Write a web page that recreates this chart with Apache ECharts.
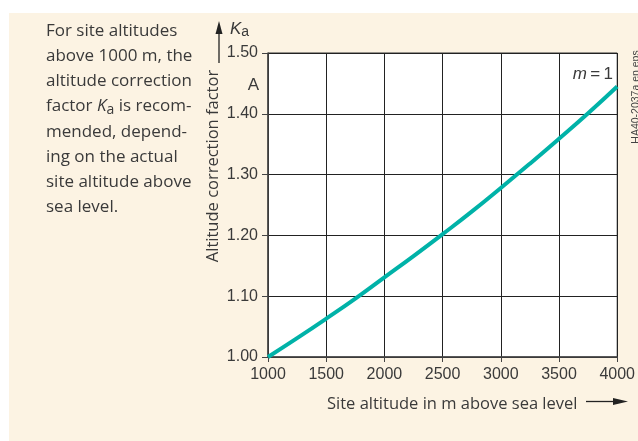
<!DOCTYPE html>
<html>
<head>
<meta charset="utf-8">
<script src="https://cdn.jsdelivr.net/npm/echarts@6/dist/echarts.min.js"></script>
<style>
html,body{margin:0;padding:0;background:#fff;overflow:hidden;}
#bg{position:absolute;left:9px;top:13px;width:629px;height:428px;background:#fcf3e3;}
#main{position:absolute;left:0;top:0;width:638px;height:441px;}
</style>
</head>
<body>
<div id="bg"></div>
<div id="main"></div>
<script>
// Data
const altitudes = [1000, 1250, 1500, 1750, 2000, 2250, 2500, 2750, 3000, 3250, 3500, 3750, 4000];
const kaValues  = [1.000, 1.031, 1.063, 1.096, 1.131, 1.166, 1.202, 1.239, 1.278, 1.318, 1.359, 1.401, 1.445];
const xTicks = ['1000', '1500', '2000', '2500', '3000', '3500', '4000'];
const yTicks = ['1.00', '1.10', '1.20', '1.30', '1.40', '1.50'];
const xAxisTitle = 'Site altitude in m above sea level';
const yAxisTitle = 'Altitude correction factor';
const descLines = [
  'For site altitudes',
  'above 1000 m, the',
  'altitude correction',
  '{t|factor }{k|K}{s|a}{t| is recom-}',
  'mended, depend-',
  'ing on the actual',
  'site altitude above',
  'sea level.'
];

const tickFont = "'Liberation Sans', Arial, sans-serif";
const textFont = "'Open Sans', 'Noto Sans', sans-serif";
const textColor = '#3a3a3a';

const chart = echarts.init(document.getElementById('main'), null, {renderer: 'canvas'});

const descGraphics = descLines.map((line, i) => ({
  type: 'text', x: 46, y: 31 + i * 25.2,
  style: {
    text: line, font: '17px ' + textFont, fill: textColor, align: 'left', verticalAlign: 'middle',
    rich: {
      t: {font: '17px ' + textFont, fill: textColor},
      k: {font: 'italic 17px ' + textFont, fill: textColor},
      s: {font: '14px ' + textFont, fill: textColor, padding: [7, 0, 0, 0]}
    }
  }
}));

const option = {
  backgroundColor: 'transparent',
  animation: false,
  grid: {
    left: 268, top: 53, width: 357, height: 304,
    show: true, backgroundColor: '#ffffff', borderColor: '#333', borderWidth: 1
  },
  xAxis: {
    type: 'value', min: 1000, max: 4000, interval: 500,
    axisLine: {show: true, lineStyle: {color: '#444', width: 1.5}},
    axisTick: {show: true, length: 5, lineStyle: {color: '#444'}},
    splitLine: {show: true, lineStyle: {color: '#222', width: 1}},
    axisLabel: {
      color: textColor, fontFamily: tickFont, fontSize: 16, margin: 10,
      formatter: v => xTicks[Math.round((v - 1000) / 500)] || String(v)
    }
  },
  yAxis: {
    type: 'value', min: 1.0, max: 1.5, interval: 0.1,
    axisLine: {show: true, lineStyle: {color: '#444', width: 1.5}},
    axisTick: {show: true, length: 6, lineStyle: {color: '#444'}},
    splitLine: {show: true, lineStyle: {color: '#222', width: 1}},
    axisLabel: {
      color: textColor, fontFamily: tickFont, fontSize: 16, margin: 10,
      formatter: v => yTicks[Math.round((v - 1.0) * 10)] || v.toFixed(2)
    }
  },
  series: [{
    type: 'line',
    data: altitudes.map((a, i) => [a, kaValues[i]]),
    showSymbol: false,
    smooth: true,
    lineStyle: {color: '#00b2a8', width: 4},
    clip: true
  }],
  graphic: descGraphics.concat([
    // y-axis title (rotated)
    {
      type: 'text', x: 213, y: 166, rotation: Math.PI / 2,
      style: {text: yAxisTitle, font: '16.5px ' + textFont, fill: textColor, align: 'center', verticalAlign: 'middle'}
    },
    // Ka arrow
    {type: 'line', shape: {x1: 219, y1: 63, x2: 219, y2: 30}, style: {stroke: '#222', lineWidth: 1.3}},
    {type: 'polygon', shape: {points: [[219, 21], [215.5, 34], [222.5, 34]]}, style: {fill: '#222'}},
    {
      type: 'text', left: 230, top: 21,
      style: {
        text: '{k|K}{s|a}',
        rich: {
          k: {font: 'italic 17px ' + tickFont, fill: textColor},
          s: {font: '14px ' + tickFont, fill: textColor, padding: [6, 0, 0, 0]}
        }
      }
    },
    // "A" unit label
    {type: 'text', x: 259, y: 85, style: {text: 'A', font: '17px ' + tickFont, fill: textColor, align: 'right', verticalAlign: 'middle'}},
    // curve label
    {
      type: 'text', x: 613, y: 74,
      style: {
        text: '{m|m}\u2009=\u20091', font: '17px ' + tickFont, fill: textColor, align: 'right', verticalAlign: 'middle',
        rich: {m: {font: 'italic 17px ' + tickFont, fill: textColor}}
      }
    },
    // x-axis title
    {type: 'text', x: 327, y: 404, style: {text: xAxisTitle, font: '16.5px ' + textFont, fill: textColor, align: 'left', verticalAlign: 'middle'}},
    // x arrow
    {type: 'line', shape: {x1: 586, y1: 401.5, x2: 616, y2: 401.5}, style: {stroke: '#222', lineWidth: 1.3}},
    {type: 'polygon', shape: {points: [[628, 401.5], [613, 398], [613, 405]]}, style: {fill: '#222'}},
    // watermark
    {
      type: 'text', x: 636, y: 97, rotation: Math.PI / 2,
      style: {text: 'HA40-2037a en eps', font: '10.5px ' + tickFont, fill: '#444', align: 'center', verticalAlign: 'middle'}
    }
  ])
};
chart.setOption(option);
</script>
</body>
</html>
